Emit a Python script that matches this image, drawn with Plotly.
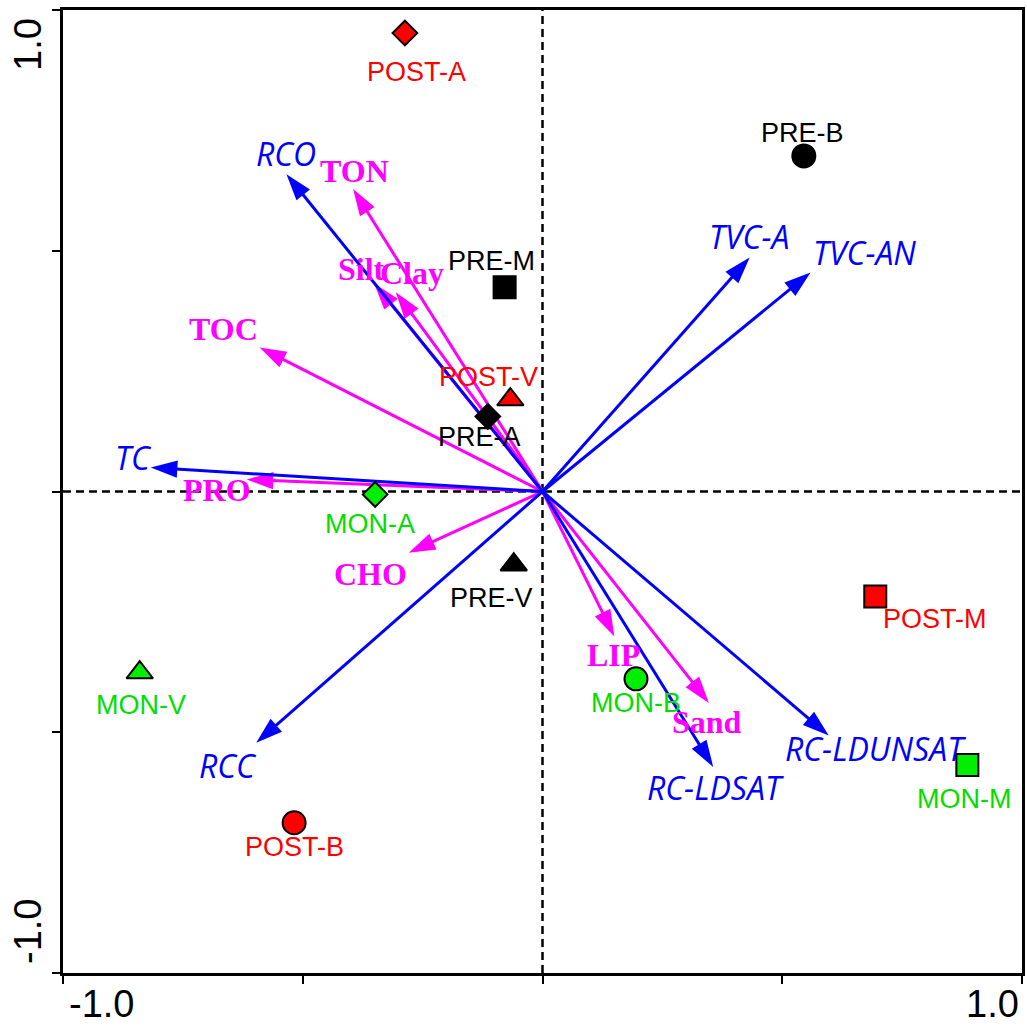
import plotly.graph_objects as go

# ---- sample scores ----
sample_names = ["POST-A", "PRE-B", "PRE-M", "POST-V", "PRE-A", "MON-A",
                "PRE-V", "POST-M", "MON-V", "MON-B", "MON-M", "POST-B"]
sample_x = [-0.287, 0.545, -0.079, -0.067, -0.114, -0.349,
            -0.060, 0.694, -0.840, 0.195, 0.886, -0.518]
sample_y = [0.952, 0.697, 0.424, 0.191, 0.156, -0.006,
            -0.152, -0.218, -0.376, -0.389, -0.568, -0.688]
sample_group = ["POST", "PRE", "PRE", "POST", "PRE", "MON",
                "PRE", "POST", "MON", "MON", "MON", "POST"]
sample_site = ["A", "B", "M", "V", "A", "A", "V", "M", "V", "B", "M", "B"]

# ---- response variables (blue) ----
resp_names = ["RCO", "TVC-A", "TVC-AN", "TC", "RCC", "RC-LDSAT", "RC-LDUNSAT"]
resp_x = [-0.534, 0.432, 0.559, -0.817, -0.597, 0.356, 0.597]
resp_y = [0.659, 0.486, 0.455, 0.050, -0.522, -0.572, -0.507]

# ---- explanatory variables (magenta) ----
expl_names = ["TON", "Silt", "Clay", "TOC", "PRO", "CHO", "LIP", "Sand"]
expl_x = [-0.395, -0.351, -0.306, -0.590, -0.617, -0.279, 0.150, 0.347]
expl_y = [0.628, 0.432, 0.414, 0.299, 0.025, -0.127, -0.301, -0.439]

# ---- styling (not data) ----
group_color = {"PRE": "#000000", "POST": "#FF0000", "MON": "#00EE00"}
label_color = {"PRE": "#000000", "POST": "#FF0000", "MON": "#00DD00"}
site_symbol = {"A": "diamond", "B": "circle", "M": "square", "V": "triangle-up"}
site_size = {"A": 19, "B": 23, "M": 22, "V": 23}

sample_label_offset = {  # pixel offsets (dx right, dy down)
    "POST-A": (12, 39), "PRE-B": (-1, -23), "PRE-M": (-13, -26),
    "POST-V": (-22, -23), "PRE-A": (-8, 21), "MON-A": (-5, 30),
    "PRE-V": (-22, 33), "POST-M": (60, 23), "MON-V": (1, 32),
    "MON-B": (0, 24), "MON-M": (-3, 34), "POST-B": (0, 24),
}
resp_label_offset = {
    "RCO": (0, -21), "TVC-A": (-1, -21), "TVC-AN": (54, -20), "TC": (-17, -10),
    "RCC": (-28, 23), "RC-LDSAT": (2, 21), "RC-LDUNSAT": (47, 13),
}
expl_label_offset = {
    "TON": (1, -18), "Silt": (-13, -14), "Clay": (16, -19), "TOC": (-36, -19),
    "PRO": (-30, 11), "CHO": (-38, 21), "LIP": (-1, 19), "Sand": (-2, 19),
}

BLUE = "#0000FF"
MAGENTA = "#FF00FF"

fig = go.Figure()

# dashed centre lines
fig.add_shape(type="line", x0=0, x1=0, y0=-1, y1=1, xref="x", yref="y",
              line=dict(color="black", width=2.5, dash="8px,5px"), layer="below")
fig.add_shape(type="line", x0=-1, x1=1, y0=0, y1=0, xref="x", yref="y",
              line=dict(color="black", width=2.5, dash="8px,5px"), layer="below")


def add_arrow(tx, ty, color):
    fig.add_trace(go.Scatter(
        x=[0, tx], y=[0, ty], mode="lines+markers",
        line=dict(color=color, width=3),
        marker=dict(symbol="arrow", size=[0, 28], angleref="previous",
                    color=color, opacity=1, line=dict(width=0)),
        hoverinfo="skip", showlegend=False))


for nx, ny in zip(expl_x, expl_y):
    add_arrow(nx, ny, MAGENTA)
for nx, ny in zip(resp_x, resp_y):
    add_arrow(nx, ny, BLUE)

# sample markers
for name, sx, sy, g, s in zip(sample_names, sample_x, sample_y, sample_group, sample_site):
    fig.add_trace(go.Scatter(
        x=[sx], y=[sy], mode="markers",
        marker=dict(symbol=site_symbol[s], size=site_size[s], color=group_color[g],
                    line=dict(color="black", width=2)),
        hoverinfo="skip", showlegend=False))

annotations = []
for name, sx, sy, g in zip(sample_names, sample_x, sample_y, sample_group):
    dx, dy = sample_label_offset[name]
    annotations.append(dict(x=sx, y=sy, xref="x", yref="y", text=name, showarrow=False,
                            xshift=dx, yshift=-dy, xanchor="center", yanchor="middle",
                            font=dict(family="Liberation Sans, Arial", size=27,
                                      color=label_color[g])))
for name, tx, ty in zip(resp_names, resp_x, resp_y):
    dx, dy = resp_label_offset[name]
    annotations.append(dict(x=tx, y=ty, xref="x", yref="y", text=name, showarrow=False,
                            xshift=dx, yshift=-dy, xanchor="center", yanchor="middle",
                            font=dict(family="Open Sans", size=32, color=BLUE,
                                      style="italic")))
for name, tx, ty in zip(expl_names, expl_x, expl_y):
    dx, dy = expl_label_offset[name]
    annotations.append(dict(x=tx, y=ty, xref="x", yref="y", text=name, showarrow=False,
                            xshift=dx, yshift=-dy, xanchor="center", yanchor="middle",
                            font=dict(family="Liberation Serif, Times New Roman", size=32,
                                      color=MAGENTA, weight="bold")))

# end tick labels
tick_font = dict(family="Liberation Sans, Arial", size=38, color="black")
annotations += [
    dict(x=0, y=0, xref="paper", yref="paper", text="-1.0", showarrow=False,
         xshift=38, yshift=-31, xanchor="center", yanchor="middle", font=tick_font),
    dict(x=1, y=0, xref="paper", yref="paper", text="1.0", showarrow=False,
         xshift=-30, yshift=-31, xanchor="center", yanchor="middle", font=tick_font),
    dict(x=0, y=1, xref="paper", yref="paper", text="1.0", showarrow=False, textangle=-90,
         xshift=-35, yshift=-35, xanchor="center", yanchor="middle", font=tick_font),
    dict(x=0, y=0, xref="paper", yref="paper", text="-1.0", showarrow=False, textangle=-90,
         xshift=-35, yshift=41, xanchor="center", yanchor="middle", font=tick_font),
]

axis_common = dict(range=[-1, 1], showgrid=False, zeroline=False, showline=True,
                   mirror=True, linecolor="black", linewidth=3, ticks="outside",
                   tickvals=[-1, -0.5, 0, 0.5, 1], ticklen=8, tickwidth=2,
                   tickcolor="black", showticklabels=False, fixedrange=True)

fig.update_layout(
    width=1027, height=1026,
    margin=dict(l=63, r=2, t=10, b=53),
    paper_bgcolor="white", plot_bgcolor="white",
    xaxis=axis_common, yaxis=axis_common,
    annotations=annotations,
    showlegend=False,
)

fig.write_html("out.html",
               config={"displayModeBar": False},
               post_script="document.body.style.margin='0';"
                           "document.body.style.overflow='hidden';")
